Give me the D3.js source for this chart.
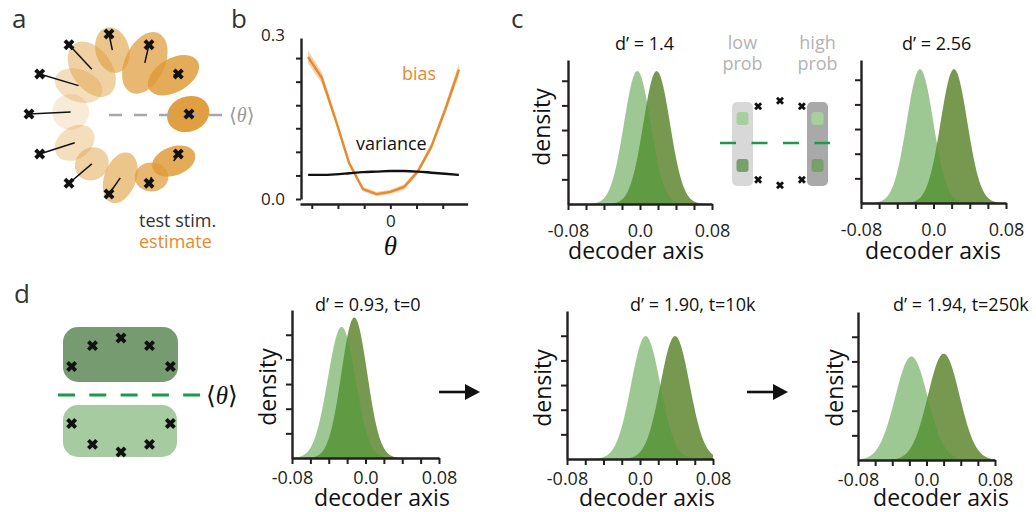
<!DOCTYPE html>
<html>
<head>
<meta charset="utf-8">
<style>
    body { margin: 0; background: white; }
    svg { font-family: 'Open Sans', sans-serif; display: block; }
    .axis .domain { stroke: #231f20; stroke-width: 2.4px; }
    .axis .tick line { stroke: #231f20; stroke-width: 2px; }
    .axis .tick text { font-size: 18px; fill: #231f20; font-family: 'Open Sans', sans-serif; }
    .letter { font-size: 26px; fill: #333; }
</style>
</head>
<body>
<svg width="1036" height="512"></svg>
<script src="https://d3js.org/d3.v7.min.js"></script>
<script>

// ---------- panel a: test stimuli (deg) and the mean estimate for each
let stimAngles = [0, 30, 60, 90, 120, 150, 180, 210, 240, 270, 300, 330]
let estAngles = [0, 31, 55, 87, 111, 137, 177, 220, 251, 280, 304, 324]
let estRadius = [0.99, 0.94, 0.78, 0.80, 0.60, 0.52, 0.48, 0.56, 0.66, 0.81, 0.95, 1.0]
let estSpreadMajor = [0.27, 0.35, 0.41, 0.29, 0.385, 0.31, 0.23, 0.27, 0.22, 0.33, 0.21, 0.28]
let estSpreadMinor = [0.22, 0.21, 0.25, 0.21, 0.25, 0.20, 0.225, 0.20, 0.20, 0.20, 0.18, 0.18]
let estTilt = [-20, -30, -65, 75, 55, 20, 0, -35, -40, -70, 0, -20]

// ---------- panel b: bias / variance against theta
let thetaDeg = [-180, -150, -120, -90, -60, -30, 0, 30, 60, 90, 120, 150]
let biasVals = [0.259, 0.221, 0.145, 0.065, 0.018, 0.009, 0.013, 0.022, 0.050, 0.096, 0.163, 0.236]
let biasErr = [0.012, 0.010, 0.006, 0.005, 0.004, 0.004, 0.004, 0.005, 0.005, 0.006, 0.008, 0.011]
let varianceVals = [0.044, 0.044, 0.045, 0.047, 0.049, 0.050, 0.051, 0.051, 0.050, 0.048, 0.046, 0.044]
let bXTicks = [-3, -2, -1, 0, 1, 2]
let bYTicks = [0, 0.043, 0.086, 0.129, 0.171, 0.214, 0.257]

// ---------- panels c, d: decoder-axis densities (low prob = light, high prob = dark)
let plotTitles = ['d’ = 1.4', 'd’ = 2.56', 'd’ = 0.93, t=0', 'd’ = 1.90, t=10k', 'd’ = 1.94, t=250k']
let lowMeans = [-0.003, -0.0149, -0.026, 0.0062, -0.0176]
let lowSds = [0.0148, 0.0147, 0.0150, 0.0160, 0.0190]
let highMeans = [0.0185, 0.0226, -0.0122, 0.0384, 0.0201]
let highSds = [0.0148, 0.0147, 0.0140, 0.0160, 0.0185]
let decoderTicks = [-0.08, -0.06, -0.04, -0.02, 0, 0.02, 0.04, 0.06, 0.08]
let decoderTickLabels = ['-0.08', '', '', '', '0.0', '', '', '', '0.08']
let densityTicks = [5, 10, 15, 20, 25]

// schematic stimulus positions (deg)
let cStimAngles = [60, 90, 120, 240, 270, 300]
let dStimAngles = [30, 60, 90, 120, 150, 210, 240, 270, 300, 330]

let svg = d3.select("svg")

let orange = "#e8892b"
let lightGreen = "#4f9a3a"
let darkGreen = "#77994f"
let dashGreen = "#1b9a4b"

function cross(g, x, y, size) {
    g.append("path")
        .attr("d", d3.symbol(d3.symbolCross, size)())
        .attr("transform", `translate(${x},${y}) rotate(45)`)
        .style("fill", "#111")
}

// panel letters
let letters = [['a', 12, 28], ['b', 231, 28], ['c', 511, 28], ['d', 14, 303]]
letters.forEach(l => {
    svg.append("text").attr("class", "letter").text(l[0]).attr("x", l[1]).attr("y", l[2])
})

// ================= panel a =================
let ga = svg.append("g")
let aCx = 109, aCy = 114
let rA = d3.scaleLinear().domain([0, 1]).range([0, 80])
let opA = d3.scaleLinear().domain([0, 180]).range([0.95, 0.2])
let rad = d => d * Math.PI / 180
function polar(angle, r) { return [aCx + rA(r) * Math.cos(rad(angle)), aCy - rA(r) * Math.sin(rad(angle))] }

stimAngles.forEach((a, i) => {
    let p = polar(estAngles[i], estRadius[i])
    let dist = Math.min(a, 360 - a)
    ga.append("ellipse")
        .attr("cx", 0).attr("cy", 0)
        .attr("rx", rA(estSpreadMajor[i])).attr("ry", rA(estSpreadMinor[i]))
        .attr("transform", `translate(${p[0]},${p[1]}) rotate(${estTilt[i]})`)
        .style("fill", "#de9a36")
        .style("fill-opacity", opA(dist))
})

ga.append("line")
    .attr("x1", aCx).attr("x2", aCx + rA(1.42))
    .attr("y1", aCy + 1).attr("y2", aCy + 1)
    .style("stroke", "#a7a7a7").style("stroke-width", 2.5)
    .style("stroke-dasharray", "13,12")

stimAngles.forEach((a, i) => {
    let s = polar(a, 1)
    let e = polar(estAngles[i], estRadius[i])
    ga.append("line")
        .attr("x1", s[0]).attr("y1", s[1]).attr("x2", e[0]).attr("y2", e[1])
        .style("stroke", "#111").style("stroke-width", 1.5)
})
stimAngles.forEach(a => {
    let s = polar(a, 1)
    cross(ga, s[0], s[1], 75)
})

let thA = ga.append("text").attr("x", 229).attr("y", 122).style("fill", "#9a9a9a").style("font-size", "20px")
thA.append("tspan").text("⟨").style("font-family", "DejaVu Sans")
thA.append("tspan").text("θ").style("font-family", "Liberation Serif").style("font-style", "italic")
thA.append("tspan").text("⟩").style("font-family", "DejaVu Sans")

ga.append("text").text("test stim.").attr("x", 139).attr("y", 227)
    .style("font-size", "18px").style("fill", "#333")
ga.append("text").text("estimate").attr("x", 139).attr("y", 248)
    .style("font-size", "18px").style("fill", orange)

// ================= panel b =================
let gb = svg.append("g")
let xB = d3.scaleLinear().domain([-3.45, 2.95]).range([300, 467.6])
let yB = d3.scaleLinear().domain([0, 0.3]).range([199, 34.5])
let thetaRad = thetaDeg.map(d => d * Math.PI / 180)

gb.append("g").attr("class", "axis")
    .attr("transform", "translate(0,204)")
    .call(d3.axisBottom(xB).tickValues(bXTicks).tickSize(5).tickSizeOuter(0)
        .tickPadding(6).tickFormat(d => d === 0 ? "0" : ""))
    .selectAll(".tick text").style("font-size", "17px")

gb.append("g").attr("class", "axis")
    .attr("transform", "translate(301,0)")
    .call(d3.axisLeft(yB.copy().range([199, 38]).domain([0, 0.3 * 161 / 164.5])).tickValues(bYTicks).tickSize(5).tickSizeOuter(0)
        .tickPadding(11).tickFormat(d => d === 0 ? "0.0" : ""))
    .selectAll(".tick text").style("font-size", "17px")

gb.append("text").text("0.3").attr("x", 285).attr("y", yB(0.3) + 6)
    .attr("text-anchor", "end").style("font-size", "17px").style("fill", "#231f20")

let bandB = d3.area()
    .x((d, i) => xB(thetaRad[i]))
    .y0((d, i) => yB(biasVals[i] - biasErr[i]))
    .y1((d, i) => yB(biasVals[i] + biasErr[i]))
gb.append("path").attr("d", bandB(biasVals))
    .style("fill", "#f2c396").style("fill-opacity", 0.75)

let lineB = d3.line().x((d, i) => xB(thetaRad[i])).y(d => yB(d))
gb.append("path").attr("d", lineB(biasVals))
    .style("fill", "none").style("stroke", orange).style("stroke-width", 2.4)

let lineV = d3.line().x((d, i) => xB(thetaRad[i])).y(d => yB(d)).curve(d3.curveMonotoneX)
gb.append("path").attr("d", lineV(varianceVals))
    .style("fill", "none").style("stroke", "#111").style("stroke-width", 2.4)

gb.append("text").text("bias").attr("x", 402).attr("y", 80)
    .style("font-size", "18px").style("fill", orange)
gb.append("text").text("variance").attr("x", 356).attr("y", 150)
    .style("font-size", "18px").style("fill", "#111")
gb.append("text").text("θ").attr("x", xB(0)).attr("y", 255).attr("text-anchor", "middle")
    .style("font-family", "Liberation Serif").style("font-style", "italic").style("font-size", "27px")
    .style("fill", "#111")

// ================= density plots (c and d) =================
let plotBoxes = [
    { x0: 568, x1: 712, base: 204, top: 60, titleX: 615, titleY: 50, tickPad: 14, labelX: 636, labelY: 259, densX: 550, densY: 127 },
    { x0: 861, x1: 1006, base: 203, top: 60, titleX: 902, titleY: 50, tickPad: 14, labelX: 933, labelY: 259, densX: null, densY: 0 },
    { x0: 292, x1: 439, base: 458, top: 310, titleX: 315, titleY: 311, tickPad: 7, labelX: 382, labelY: 506, densX: 276, densY: 387 },
    { x0: 567, x1: 713, base: 459, top: 311, titleX: 630, titleY: 311, tickPad: 7, labelX: 647, labelY: 506, densX: 551, densY: 388 },
    { x0: 858, x1: 995, base: 460, top: 312, titleX: 893, titleY: 311, tickPad: 7, labelX: 941, labelY: 506, densX: 843, densY: 388 }
]
let unitPx = 4.93
let grid = d3.range(-160, 161).map(i => i / 2000)
function pdf(v, m, s) { return Math.exp(-0.5 * ((v - m) / s) ** 2) / (s * Math.sqrt(2 * Math.PI)) }

plotBoxes.forEach((b, i) => {
    let g = svg.append("g")
    let x = d3.scaleLinear().domain([-0.08, 0.08]).range([b.x0, b.x1])
    let y = d3.scaleLinear().domain([0, (b.base - b.top) / unitPx]).range([b.base, b.top])

    let area = m => d3.area().x(v => x(v)).y0(y(0)).y1(v => y(pdf(v, m[0], m[1])))
    g.append("path").attr("d", area([highMeans[i], highSds[i]])(grid))
        .style("fill", darkGreen)
    g.append("path").attr("d", area([lowMeans[i], lowSds[i]])(grid))
        .style("fill", lightGreen).style("fill-opacity", 0.55)

    g.append("g").attr("class", "axis")
        .attr("transform", `translate(0,${b.base})`)
        .call(d3.axisBottom(x).tickValues(decoderTicks).tickSize(6).tickSizeOuter(0)
            .tickPadding(b.tickPad).tickFormat((d, k) => decoderTickLabels[k]))
    g.append("g").attr("class", "axis")
        .attr("transform", `translate(${b.x0},0)`)
        .call(d3.axisLeft(y).tickValues(densityTicks).tickSize(6).tickSizeOuter(0).tickFormat(""))

    g.append("text").text(plotTitles[i]).attr("x", b.titleX).attr("y", b.titleY)
        .style("font-size", "18px").style("fill", "#111")
    g.append("text").text("decoder axis").attr("x", b.labelX).attr("y", b.labelY)
        .attr("text-anchor", "middle").style("font-size", "23px").style("fill", "#111")
    if (b.densX !== null) {
        g.append("text").text("density")
            .attr("transform", `translate(${b.densX},${b.densY}) rotate(-90)`)
            .attr("text-anchor", "middle").style("font-size", "23px").style("fill", "#111")
    }
})

// ================= panel c schematic =================
let gc = svg.append("g")
let cCx = 780, cCy = 143
let rC = d3.scaleLinear().domain([0, 1]).range([0, 46])
let greyBoxes = [[-1, "#d8d8d8", "low", "prob"], [1, "#a9a9a9", "high", "prob"]]
greyBoxes.forEach(d => {
    let bx = cCx + d[0] * 37.5
    gc.append("rect").attr("x", bx - 10.5).attr("y", cCy - 41).attr("width", 21).attr("height", 84)
        .attr("rx", 5).style("fill", d[1])
    gc.append("rect").attr("x", bx - 6).attr("y", cCy - 31).attr("width", 12).attr("height", 13)
        .attr("rx", 3).style("fill", "#a6cf9c")
    gc.append("rect").attr("x", bx - 6).attr("y", cCy + 16).attr("width", 12).attr("height", 13)
        .attr("rx", 3).style("fill", "#76a26a")
    gc.append("text").text(d[2]).attr("x", bx).attr("y", 49).attr("text-anchor", "middle")
        .style("font-size", "18px").style("fill", "#b3b3b3")
    gc.append("text").text(d[3]).attr("x", bx).attr("y", 70).attr("text-anchor", "middle")
        .style("font-size", "18px").style("fill", "#b3b3b3")
})
gc.append("line").attr("x1", 720).attr("x2", 830).attr("y1", cCy).attr("y2", cCy)
    .style("stroke", dashGreen).style("stroke-width", 2.5).style("stroke-dasharray", "16,15.5")
cStimAngles.forEach(a => {
    cross(gc, cCx + rC(Math.cos(rad(a))) * 0.95, cCy - rC(Math.sin(rad(a))) * 0.92, 40)
})

// ================= panel d schematic =================
let gd = svg.append("g")
let dCx = 121, dCy = 395
let rD = d3.scaleLinear().domain([0, 1]).range([0, 57])
gd.append("rect").attr("x", 63).attr("y", 327).attr("width", 115).attr("height", 55)
    .attr("rx", 15).style("fill", "#779b70")
gd.append("rect").attr("x", 63).attr("y", 405).attr("width", 114).attr("height", 52)
    .attr("rx", 15).style("fill", "#a7cba1")
gd.append("line").attr("x1", 58).attr("x2", 200).attr("y1", dCy).attr("y2", dCy)
    .style("stroke", dashGreen).style("stroke-width", 2.8).style("stroke-dasharray", "17,14.3")
dStimAngles.forEach(a => {
    cross(gd, dCx + rD(Math.cos(rad(a))), dCy - rD(Math.sin(rad(a))), 75)
})
let thD = gd.append("text").attr("x", 206).attr("y", 404).style("fill", "#111").style("font-size", "25px")
thD.append("tspan").text("⟨").style("font-family", "DejaVu Sans")
thD.append("tspan").text("θ").style("font-family", "Liberation Serif").style("font-style", "italic")
thD.append("tspan").text("⟩").style("font-family", "DejaVu Sans")

// arrows between the training stages
let arrows = [[439, 480], [747, 788]]
arrows.forEach(a => {
    svg.append("line").attr("x1", a[0]).attr("x2", a[1] - 12).attr("y1", 392).attr("y2", 392)
        .style("stroke", "#111").style("stroke-width", 2.6)
    svg.append("path").attr("d", `M${a[1] - 15},384 L${a[1]},392 L${a[1] - 15},400 Z`).style("fill", "#111")
})

</script>
</body>
</html>
